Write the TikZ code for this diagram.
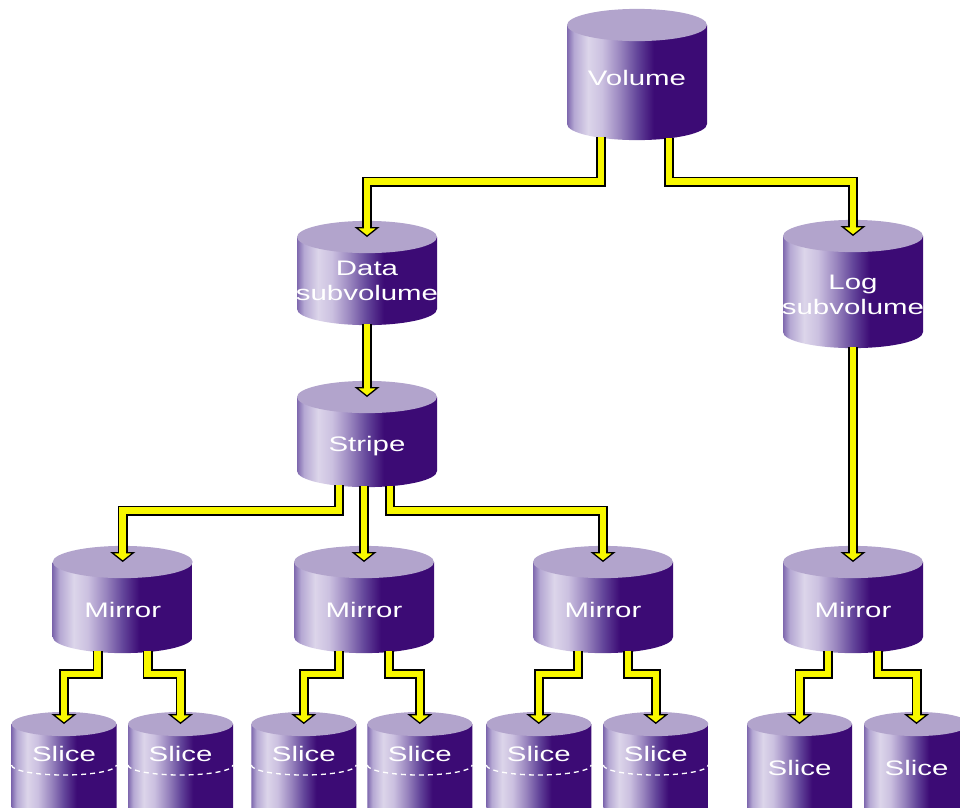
\documentclass[tikz,border=0pt]{standalone}
\usepackage{fontspec}
\usetikzlibrary{arrows.meta}

\newfontfamily\drumfont[FakeStretch=1.4]{Liberation Sans}

\definecolor{drumtop}{HTML}{B2A4CC}
\definecolor{sideA}{HTML}{7E68AE}
\definecolor{sideB}{HTML}{B5A8D3}
\definecolor{sideC}{HTML}{DCD5EA}
\definecolor{sideD}{HTML}{CBC0E0}
\definecolor{sideE}{HTML}{9884BE}
\definecolor{sideF}{HTML}{63459A}
\definecolor{sideG}{HTML}{3C0B75}
\definecolor{pipeyellow}{HTML}{F8F800}

\pgfdeclarehorizontalshading{drumside}{100bp}{color(0bp)=(sideA); color(25bp)=(sideA);
  color(27.5bp)=(sideB); color(32.5bp)=(sideC); color(37.5bp)=(sideD);
  color(44bp)=(sideE); color(50bp)=(sideF); color(56bp)=(sideG); color(100bp)=(sideG)}

\tikzset{
  drumtext/.style={text=white, font=\drumfont\fontsize{21}{25}\selectfont,
    align=center, anchor=base, inner sep=0pt},
  pipe/.style={draw=black, line width=10pt, line join=miter,
    -{Triangle[length=10pt,width=25pt,color=black,fill=pipeyellow,line width=1.3pt]},
    postaction={draw=pipeyellow, line width=6.5pt, arrows=-, shorten >=7pt}},
  slicecut/.style={white, line width=1.3pt, dash pattern=on 5pt off 4pt},
}

% name, centre x, top y, body height, half width, text baseline (last line), text
\newcommand{\drum}[7]{%
  \shade[shading=drumside] (#2-#5,#3) -- (#2-#5,#3-#4)
    arc[start angle=180,end angle=360,x radius=#5,y radius=#5*0.23] -- (#2+#5,#3) -- cycle;
  \fill[drumtop] (#2,#3) ellipse[x radius=#5,y radius=#5*0.23];
  \coordinate (#1-in) at (#2,#3);
  \coordinate (#1-out) at (#2,#3-#4);
  \node[drumtext] (#1) at (#2,#6) {#7};
}

\begin{document}
\begin{tikzpicture}[x=1pt,y=1pt]
\useasboundingbox (0,0) rectangle (960,-807);
\clip (0,0) rectangle (960,-807);

% volumes
\drum{vol}{637}{-25}{99}{70}{-85}{Volume}
\drum{data}{367}{-237}{72}{70}{-300}{Data\\subvolume}
\drum{log}{853}{-236}{96}{70}{-314.3}{Log\\subvolume}
\drum{stripe}{367}{-397}{74}{70}{-451.7}{Stripe}

% mirrors
\foreach \n/\x in {mir1/122.7, mir2/364, mir3/603, mir4/853}
  \drum{\n}{\x}{-562}{75}{70}{-617.7}{Mirror};

% slices
\foreach \n/\x in {sl1/64, sl2/180.5, sl3/303.8, sl4/419.8, sl5/538.8, sl6/655.8}{
  \drum{\n}{\x}{-724}{100}{52.5}{-761.7}{Slice}
  \draw[slicecut] (\x-52.5,-765) arc[start angle=180,end angle=360,x radius=52.5,y radius=10];
}
\foreach \n/\x in {sl7/799.5, sl8/916.5}
  \drum{\n}{\x}{-724}{100}{52.5}{-775}{Slice};

% connectors
\draw[pipe] ([xshift=-36pt,yshift=-13pt]vol-out) -- ++(0,-44.5) -| (data-in);
\draw[pipe] ([xshift=32pt,yshift=-13.5pt]vol-out) -- ++(0,-44) -| (log-in);
\draw[pipe] ([yshift=-15pt]data-out) -- (stripe-in);
\draw[pipe] ([yshift=-15pt]log-out) -- (mir4-in);
\draw[pipe] ([xshift=-28pt,yshift=-14pt]stripe-out) -- ++(0,-25.5) -| (mir1-in);
\draw[pipe] ([xshift=-3pt,yshift=-15pt]stripe-out) -- (mir2-in);
\draw[pipe] ([xshift=23pt,yshift=-15pt]stripe-out) -- ++(0,-24.5) -| (mir3-in);
\foreach \m/\a/\b in {mir1/sl1/sl2, mir2/sl3/sl4, mir3/sl5/sl6, mir4/sl7/sl8}{
  \draw[pipe] ([xshift=-25pt,yshift=-14pt]\m-out) -- ++(0,-23) -| (\a-in);
  \draw[pipe] ([xshift=25pt,yshift=-14pt]\m-out) -- ++(0,-23) -| (\b-in);
}
\end{tikzpicture}
\end{document}
